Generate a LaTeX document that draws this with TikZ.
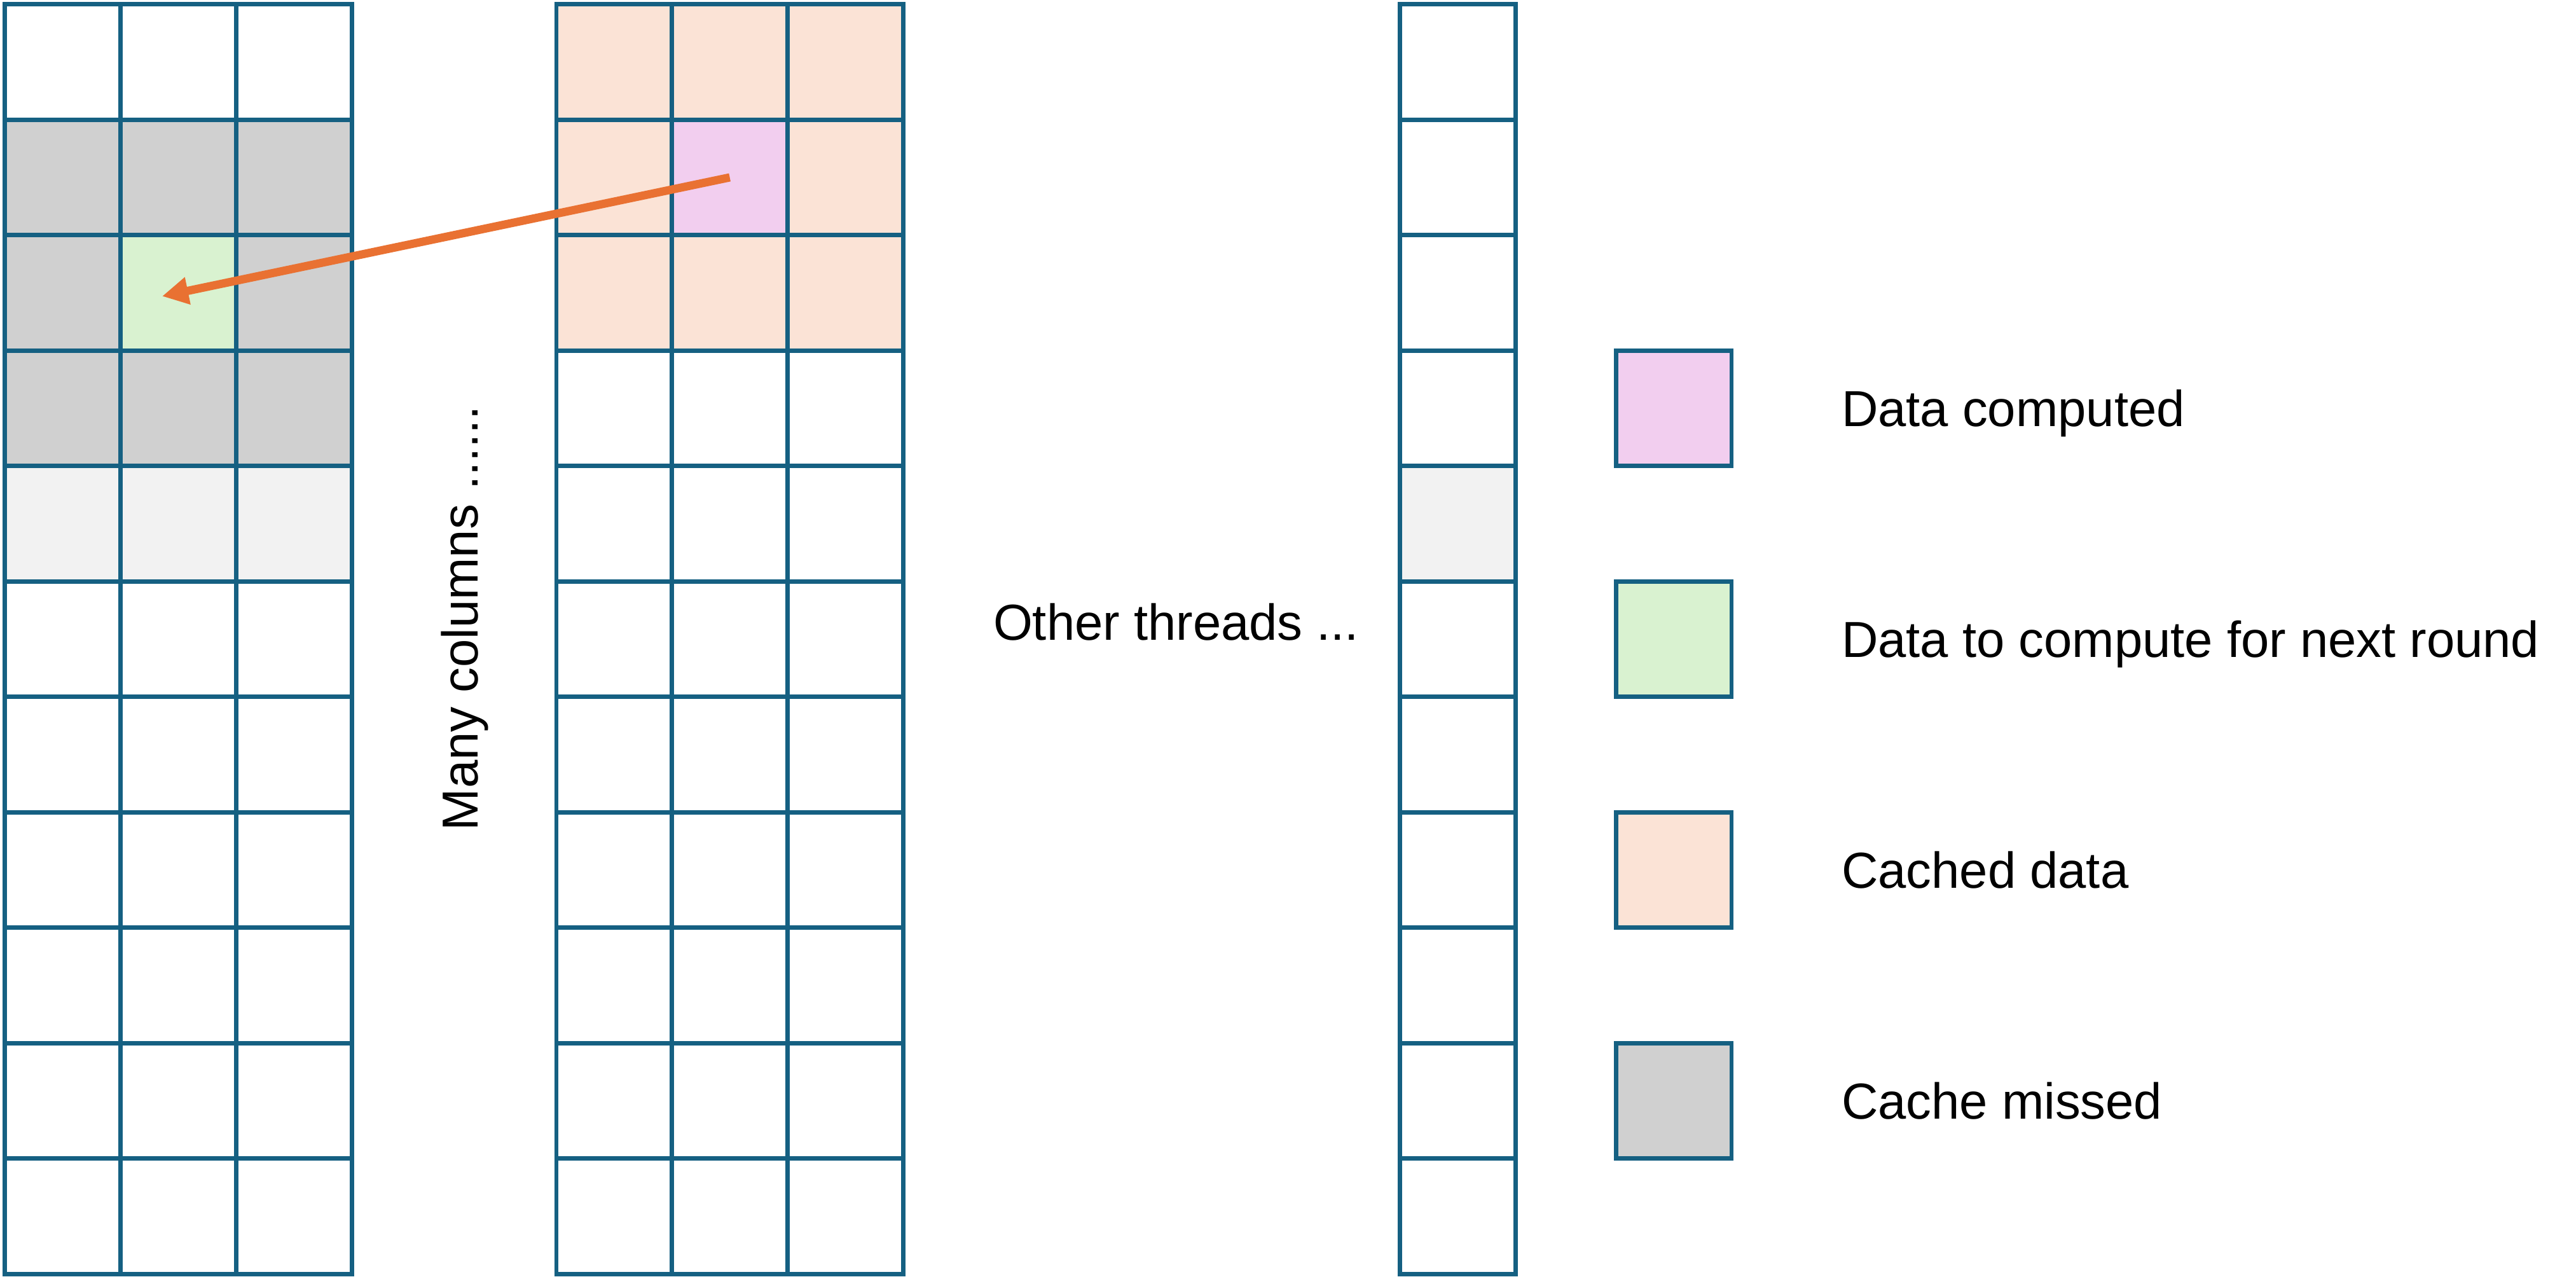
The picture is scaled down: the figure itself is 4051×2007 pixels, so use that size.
\documentclass[tikz,border=0pt]{standalone}
\usepackage{fontspec}
\setmainfont{Liberation Sans}
\usetikzlibrary{arrows.meta}
\definecolor{gridblue}{HTML}{156082}
\definecolor{arroworange}{HTML}{E97132}
\definecolor{cmiss}{HTML}{D0D0D0}
\definecolor{cpale}{HTML}{F2F2F2}
\definecolor{cnext}{HTML}{D9F2D0}
\definecolor{ccache}{HTML}{FBE3D6}
\definecolor{ccomp}{HTML}{F2CEEF}
\begin{document}
\begin{tikzpicture}[x=0.25pt,y=-0.25pt,
  cell/.style={rectangle, draw=gridblue, line width=1.7pt, minimum width=45.45pt, minimum height=45.375pt, inner sep=0pt, outer sep=0pt},
  lbl/.style={font=\fontsize{19.9pt}{24pt}\selectfont, inner sep=0pt, outer sep=0pt, text=black},
  flow/.style={draw=arroworange, line width=3.25pt, -{Triangle[length=10.3pt,width=10.3pt]}}]
\fill[white] (0,0) rectangle (4051,2007);
\useasboundingbox (0,0) rectangle (4051,2007);
% left grid
\foreach \r in {0,...,10} {
  \foreach \c in {0,1,2} {
    \def\fc{white}
    \ifnum\r>0 \ifnum\r<4 \def\fc{cmiss}\fi\fi
    \ifnum\r=4 \def\fc{cpale}\fi
    \ifnum\r=2 \ifnum\c=1 \def\fc{cnext}\fi\fi
    \node[cell, fill=\fc] (L-\r-\c) at ({7.7+181.8*(\c+0.5)}, {6.7+181.5*(\r+0.5)}) {};
  }
}
% middle grid
\foreach \r in {0,...,10} {
  \foreach \c in {0,1,2} {
    \def\fc{white}
    \ifnum\r<3 \def\fc{ccache}\fi
    \ifnum\r=1 \ifnum\c=1 \def\fc{ccomp}\fi\fi
    \node[cell, fill=\fc] (M-\r-\c) at ({874.9+181.8*(\c+0.5)}, {6.7+181.5*(\r+0.5)}) {};
  }
}
% right column
\foreach \r in {0,...,10} {
  \def\fc{white}
  \ifnum\r=4 \def\fc{cpale}\fi
  \node[cell, fill=\fc] (R-\r) at ({2201.7+181.8*0.5}, {6.7+181.5*(\r+0.5)}) {};
}
% texts
\node[lbl, rotate=90, anchor=base] (many) at (751.7, 972) {Many columns ......};
\node[lbl, anchor=base west] (other) at (1562, 1006) {Other threads ...};
% legend
\node[cell, fill=ccomp] (K1) at (2632, 642) {};
\node[cell, fill=cnext] (K2) at (2632, 1005) {};
\node[cell, fill=ccache] (K3) at (2632, 1368) {};
\node[cell, fill=cmiss] (K4) at (2632, 1731) {};
\node[lbl, anchor=base west] (T1) at (2896, 670) {Data computed};
\node[lbl, anchor=base west] (T2) at (2896, 1033) {Data to compute for next round};
\node[lbl, anchor=base west] (T3) at (2896, 1396) {Cached data};
\node[lbl, anchor=base west] (T4) at (2896, 1759) {Cache missed};
% arrow
\draw[flow, shorten >=-6.5pt] (M-1-1.center) -- (L-2-1.center);
\end{tikzpicture}
\end{document}
